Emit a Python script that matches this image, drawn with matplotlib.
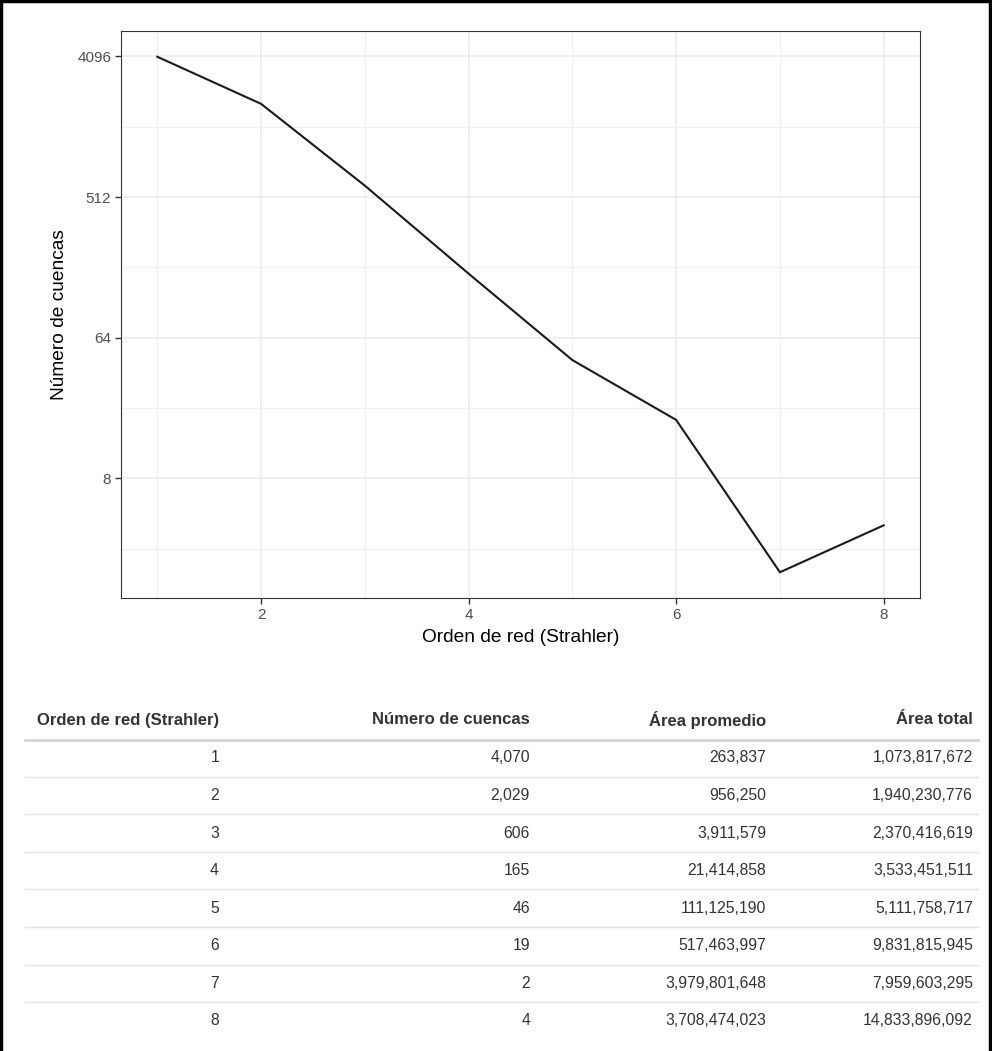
import matplotlib
matplotlib.use("Agg")
import matplotlib.pyplot as plt
from matplotlib.lines import Line2D
import numpy as np

plt.rcParams['font.family'] = ['Liberation Sans', 'DejaVu Sans']

orden = [1, 2, 3, 4, 5, 6, 7, 8]
n_cuencas = [4070, 2029, 606, 165, 46, 19, 2, 4]
area_prom = [263837, 956250, 3911579, 21414858, 111125190, 517463997, 3979801648, 3708474023]
area_total = [1073817672, 1940230776, 2370416619, 3533451511, 5111758717, 9831815945, 7959603295, 14833896092]
y_ticks = [8, 64, 512, 4096]
x_ticks = [2, 4, 6, 8]
headers = ["Orden de red (Strahler)", "Número de cuencas", "Área promedio", "Área total"]

W, H = 992, 1051
fig = plt.figure(figsize=(W / 100, H / 100), dpi=100)

def fx(px):
    return px / W

def fy(py):
    return 1 - py / H

# ---- chart
ax = fig.add_axes([fx(121), fy(598), fx(920) - fx(121), fy(31) - fy(598)])
ax.plot(orden, n_cuencas, color='#1a1a1a', lw=1.5, solid_joinstyle='miter')
ax.set_yscale('log', base=2)
lo, hi = np.log2(min(n_cuencas)), np.log2(max(n_cuencas))
pad = 0.05 * (hi - lo)
ax.set_ylim(2 ** (lo - pad), 2 ** (hi + pad))
xpad = 0.05 * (max(orden) - min(orden))
ax.set_xlim(min(orden) - xpad, max(orden) + xpad)
ax.set_yticks(y_ticks)
ax.set_yticklabels([str(t) for t in y_ticks])
ax.yaxis.set_minor_locator(matplotlib.ticker.FixedLocator([2 ** 1.5, 2 ** 4.5, 2 ** 7.5, 2 ** 10.5]))
ax.yaxis.set_minor_formatter(matplotlib.ticker.NullFormatter())
ax.set_xticks(x_ticks)
ax.xaxis.set_minor_locator(matplotlib.ticker.FixedLocator([1, 3, 5, 7]))
ax.grid(True, which='major', color='#ebebeb', lw=1.1)
ax.grid(True, which='minor', color='#f0f0f0', lw=0.9)
ax.set_axisbelow(True)
ax.tick_params(which='major', length=4, width=1, color='#333333', labelcolor='#4d4d4d', labelsize=11, pad=3)
ax.tick_params(which='minor', length=0)
for s in ax.spines.values():
    s.set_color('#333333')
    s.set_linewidth(0.8)
ax.set_xlabel("Orden de red (Strahler)", fontsize=13.8, color='black', labelpad=5)
ax.set_ylabel("Número de cuencas", fontsize=13.8, color='black', labelpad=7)

# ---- table
tab = fig.add_axes([0, 0, 1, 1], facecolor='none')
tab.set_xlim(0, W)
tab.set_ylim(H, 0)
tab.axis('off')
col_right = [219, 530, 766, 973]
header_y = 720
row0 = 758
row_h = 37.55
for c, h in zip(col_right, headers):
    tab.text(c, header_y, h, ha='right', va='center', fontsize=12, fontweight='bold', color='#333333')
tab.add_line(Line2D([25, 978], [740, 740], color='#d3d3d3', lw=2))
cols = [orden, n_cuencas, area_prom, area_total]
for i in range(len(orden)):
    y = row0 + i * row_h
    for c, vals in zip(col_right, cols):
        tab.text(c, y, f"{vals[i]:,}", ha='right', va='center', fontsize=11.3, color='#333333')
    if i < len(orden) - 1:
        tab.add_line(Line2D([25, 978], [y + row_h / 2, y + row_h / 2], color='#e3e3e3', lw=1))

# ---- outer frame (left, top, right)
tab.add_line(Line2D([1, 1, W - 2, W - 2], [H, 1, 1, H], color='black', lw=2.5, solid_joinstyle='miter'))

fig.savefig("out.png", dpi=100)
